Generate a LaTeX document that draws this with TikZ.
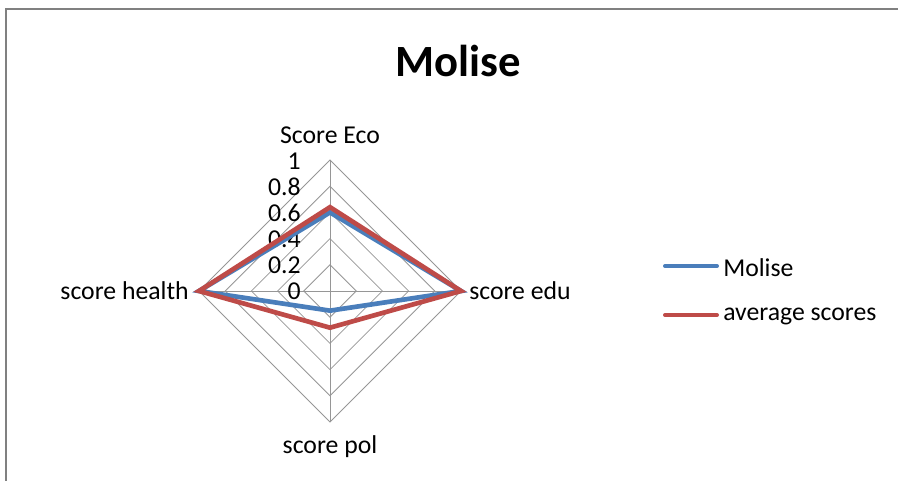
\documentclass[tikz,border=0pt]{standalone}
\usepackage{fontspec}
\setmainfont{Carlito}
\usetikzlibrary{calc, positioning}

\definecolor{moliseblue}{RGB}{74,126,187}
\definecolor{avgred}{RGB}{190,75,72}
\definecolor{gridgray}{RGB}{150,150,150}

\tikzset{
  lbl/.style={font=\fontsize{19.3}{23}\selectfont, inner sep=0pt},
  ring/.style={draw=gridgray, line width=0.6pt},
  series/.style={line width=3.5pt}
}

\begin{document}
\begin{tikzpicture}[x=0.75pt, y=-0.75pt]
\useasboundingbox (0,0) rectangle (898,481);
\draw[draw=gray, line width=1.5pt] (6,481) -- (6,9) -- (898,9);

\node[font=\fontsize{33.5}{40}\selectfont\bfseries, inner sep=0pt] (title) at (458,61) {Molise};

% axes ends
\coordinate (c) at (330,291);
\coordinate (eco) at (330,160);
\coordinate (edu) at (461,291);
\coordinate (pol) at (330,422);
\coordinate (health) at (199,291);

\foreach \r in {0.2,0.4,0.6,0.8,1}
  \draw[ring] ($(c)!\r!(eco)$) -- ($(c)!\r!(edu)$) -- ($(c)!\r!(pol)$) -- ($(c)!\r!(health)$) -- cycle;
\draw[ring] (eco) -- (pol) (health) -- (edu);

\node[lbl, anchor=east] (t0) at (301,291) {0};
\node[lbl, anchor=east] (t2) at (301,265) {0.2};
\node[lbl, anchor=east] (t4) at (301,239) {0.4};
\node[lbl, anchor=east] (t6) at (301,213) {0.6};
\node[lbl, anchor=east] (t8) at (301,187) {0.8};
\node[lbl, anchor=east] (t10) at (301,161) {1};

\node[lbl] (ecolbl) at (330,135) {Score Eco};
\node[lbl, anchor=west] (edulbl) at (469,291) {score edu};
\node[lbl] (pollbl) at (330,447) {score pol};
\node[lbl, anchor=east] (healthlbl) at (189,291) {score health};

% series
\draw[series, moliseblue] ($(c)!0.6!(eco)$) -- (edu) -- ($(c)!0.15!(pol)$) -- (health) -- cycle;
\draw[series, avgred] ($(c)!0.64!(eco)$) -- (edu) -- ($(c)!0.28!(pol)$) -- (health) -- cycle;

% legend
\node[lbl, anchor=west] (leg1) at (723,268) {Molise};
\node[lbl, anchor=west] (leg2) at (723,316) {average scores};
\coordinate (k1a) at (665,266);
\coordinate (k1b) at (717,266);
\coordinate (k2a) at (665,315);
\coordinate (k2b) at (717,315);
\draw[series, line width=3pt, moliseblue, line cap=round] (k1a) -- (k1b);
\draw[series, line width=3pt, avgred, line cap=round] (k2a) -- (k2b);
\end{tikzpicture}
\end{document}
